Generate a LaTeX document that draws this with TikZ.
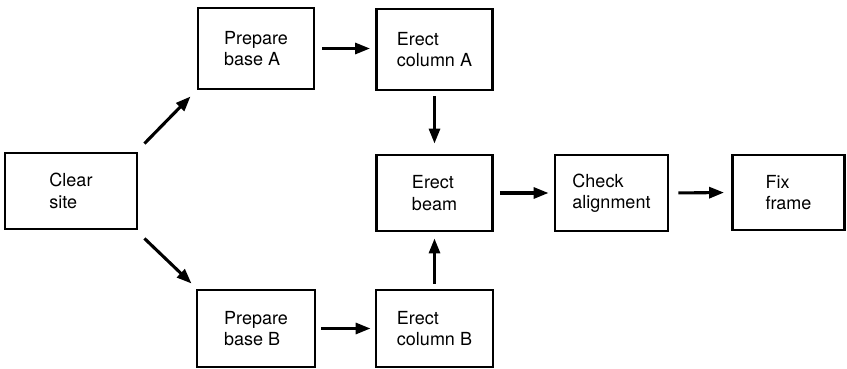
\documentclass[tikz,border=0pt]{standalone}
\usepackage{fontspec}
\setmainfont{TeX Gyre Heros}
\usetikzlibrary{arrows.meta}
\begin{document}
\begin{tikzpicture}[x=1pt,y=-1pt,
  task/.style={draw,line width=2.9pt,inner sep=0pt,align=left,
    minimum width=116pt,font=\fontsize{18}{21.5}\selectfont},
  flow/.style={line width=3.1pt,-{Triangle[length=15pt,width=11pt]}}]
\useasboundingbox (0,0) rectangle (847,369);
% activity boxes
\node[task,minimum width=132pt,minimum height=76pt] (clear) at (71,191) {Clear\\site};
\node[task,minimum height=81pt] (prepA) at (256,48.5) {Prepare\\base A};
\node[task,minimum height=81pt] (colA) at (434.5,49.5) {Erect\\column A};
\node[task,minimum height=76pt] (beam) at (434.5,193) {Erect\\beam};
\node[task,minimum width=113pt,minimum height=76pt] (check) at (611.5,193) {Check\\alignment};
\node[task,minimum width=112pt,minimum height=75pt] (fix) at (788.5,192.5) {Fix\\frame};
\node[task,minimum width=118pt,minimum height=77pt] (prepB) at (256,328.5) {Prepare\\base B};
\node[task,minimum width=117pt,minimum height=77pt] (colB) at (434.5,328.5) {Erect\\column B};
% precedence arrows
\draw[flow] ([shift={(6,-8)}]clear.north east) -- ([shift={(-6,6)}]prepA.south west);
\draw[flow] ([shift={(6,8)}]clear.south east) -- ([shift={(-4,-5)}]prepB.north west);
\draw[flow,shorten <=7pt,shorten >=5pt] (prepA.east) -- (colA.west |- prepA.east);
\draw[flow,shorten <=5pt,shorten >=4pt] (prepB.east) -- (colB.west |- prepB.east);
\draw[flow,shorten <=5pt,shorten >=10pt] (colA.south) -- (beam.north);
\draw[flow,shorten <=5pt,shorten >=6pt] (colB.north) -- (beam.south);
\draw[flow,shorten <=6pt,shorten >=5pt] (beam.east) -- (check.west);
\draw[flow,shorten <=9pt,shorten >=7pt] (check.east) -- (fix.west);
\end{tikzpicture}
\end{document}
